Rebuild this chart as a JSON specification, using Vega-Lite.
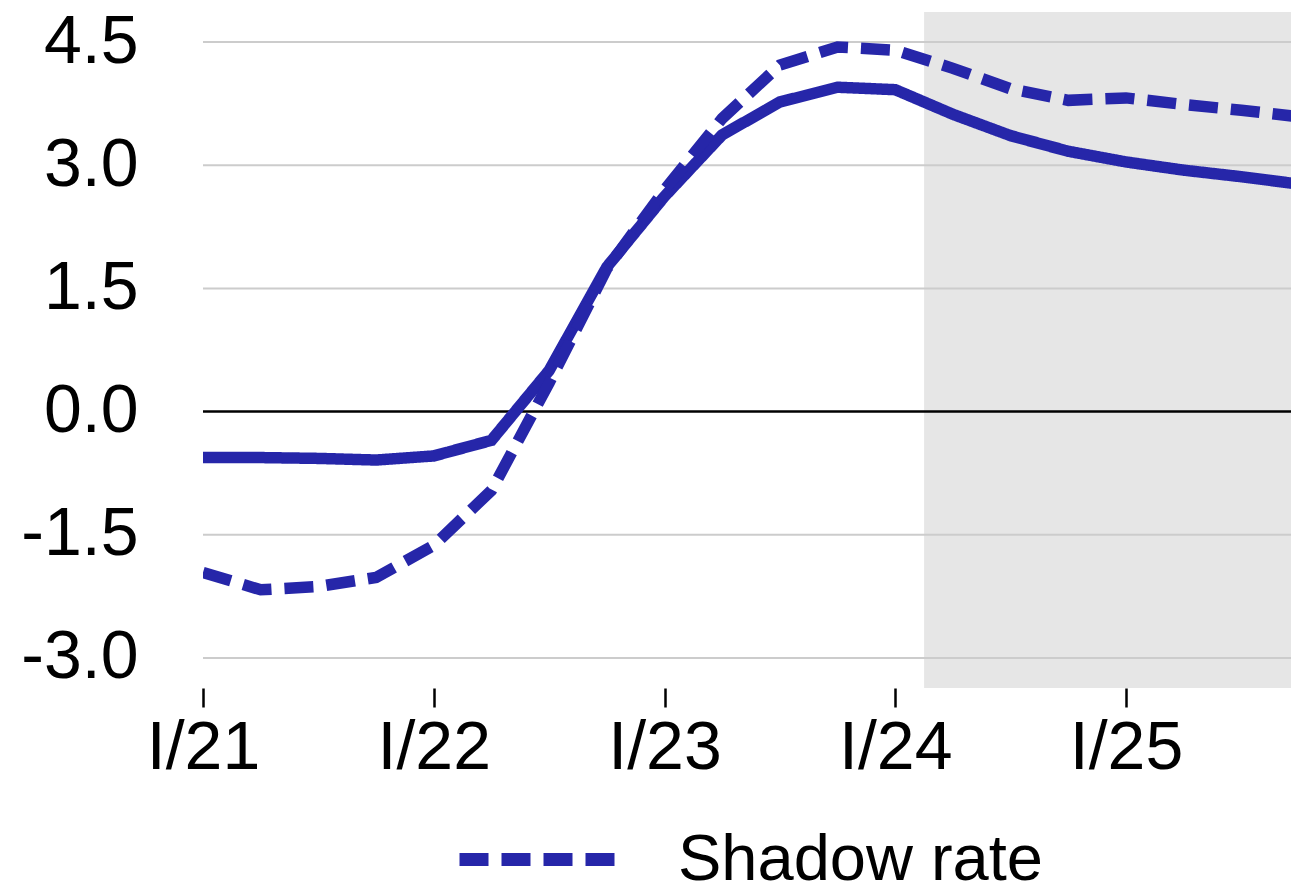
{
  "$schema": "https://vega.github.io/schema/vega-lite/v6.json",
  "autosize": {"type": "none"},
  "width": 1088,
  "height": 676,
  "padding": {"left": 203, "top": 12, "right": 0, "bottom": 203},
  "background": "white",
  "config": {
    "view": {"stroke": null},
    "font": "'Liberation Sans', Arial, sans-serif",
    "axisX": {"title": null, "grid": false, "domain": false, "ticks": true, "tickSize": 19, "tickWidth": 2.5, "tickColor": "black", "labelFontSize": 68, "labelColor": "black", "labelPadding": 7, "labelFlush": false, "labelOverlap": false, "labelBound": false},
    "axisY": {"title": null, "grid": false, "domain": false, "ticks": false, "labelFontSize": 68, "labelColor": "black", "labelPadding": 65, "labelOverlap": false, "labelBound": false}
  },
  "title": {"text": "Interest rates (%, p.a.)", "fontSize": 96, "fontWeight": "normal", "anchor": "middle", "baseline": "alphabetic", "offset": -30, "color": "black"},
  "datasets": {
    "rates": [
      {"q": 0, "series": "€STR", "value": -0.56},
      {"q": 1, "series": "€STR", "value": -0.56},
      {"q": 2, "series": "€STR", "value": -0.57},
      {"q": 3, "series": "€STR", "value": -0.59},
      {"q": 4, "series": "€STR", "value": -0.54},
      {"q": 5, "series": "€STR", "value": -0.35},
      {"q": 6, "series": "€STR", "value": 0.50},
      {"q": 7, "series": "€STR", "value": 1.76},
      {"q": 8, "series": "€STR", "value": 2.62},
      {"q": 9, "series": "€STR", "value": 3.37},
      {"q": 10, "series": "€STR", "value": 3.77},
      {"q": 11, "series": "€STR", "value": 3.95},
      {"q": 12, "series": "€STR", "value": 3.92},
      {"q": 13, "series": "€STR", "value": 3.62},
      {"q": 14, "series": "€STR", "value": 3.36},
      {"q": 15, "series": "€STR", "value": 3.17},
      {"q": 16, "series": "€STR", "value": 3.04},
      {"q": 17, "series": "€STR", "value": 2.94},
      {"q": 18, "series": "€STR", "value": 2.86},
      {"q": 19, "series": "€STR", "value": 2.77},
      {"q": 0, "series": "Shadow rate", "value": -1.96},
      {"q": 1, "series": "Shadow rate", "value": -2.17},
      {"q": 2, "series": "Shadow rate", "value": -2.13},
      {"q": 3, "series": "Shadow rate", "value": -2.02},
      {"q": 4, "series": "Shadow rate", "value": -1.63},
      {"q": 5, "series": "Shadow rate", "value": -0.96},
      {"q": 6, "series": "Shadow rate", "value": 0.35},
      {"q": 7, "series": "Shadow rate", "value": 1.74},
      {"q": 8, "series": "Shadow rate", "value": 2.70},
      {"q": 9, "series": "Shadow rate", "value": 3.57},
      {"q": 10, "series": "Shadow rate", "value": 4.22},
      {"q": 11, "series": "Shadow rate", "value": 4.44},
      {"q": 12, "series": "Shadow rate", "value": 4.40},
      {"q": 13, "series": "Shadow rate", "value": 4.18},
      {"q": 14, "series": "Shadow rate", "value": 3.93},
      {"q": 15, "series": "Shadow rate", "value": 3.79},
      {"q": 16, "series": "Shadow rate", "value": 3.82},
      {"q": 17, "series": "Shadow rate", "value": 3.74},
      {"q": 18, "series": "Shadow rate", "value": 3.67},
      {"q": 19, "series": "Shadow rate", "value": 3.59}
    ],
    "shade": [{"start": 12.5, "end": 19}],
    "grid": [{"v": -3}, {"v": -1.5}, {"v": 1.5}, {"v": 3}, {"v": 4.5}],
    "zero": [{"v": 0}]
  },
  "layer": [
    {
      "data": {"name": "rates"},
      "mark": {"type": "line", "color": "#2626A9", "strokeWidth": 11, "clip": true, "opacity": 0},
      "encoding": {
        "x": {
          "field": "q", "type": "quantitative",
          "scale": {"domain": [0, 18.86], "nice": false, "zero": false},
          "axis": {"values": [0, 4, 8, 12, 16], "labelExpr": "'I/' + (21 + datum.value / 4)"}
        },
        "y": {
          "field": "value", "type": "quantitative",
          "scale": {"domain": [-3.366, 4.866], "nice": false, "zero": false},
          "axis": {"values": [-3, -1.5, 0, 1.5, 3, 4.5], "labelExpr": "datum.value < 0 ? '-' + format(-datum.value, '.1f') : format(datum.value, '.1f')"}
        }
      }
    },
    {
      "data": {"name": "shade"},
      "mark": {"type": "rect", "fill": "#E6E6E6", "clip": true},
      "encoding": {
        "x": {"field": "start", "type": "quantitative"},
        "x2": {"field": "end"}
      }
    },
    {
      "data": {"name": "grid"},
      "mark": {"type": "rule", "color": "#CCCCCC", "strokeWidth": 2},
      "encoding": {
        "y": {"field": "v", "type": "quantitative"}
      }
    },
    {
      "data": {"name": "zero"},
      "mark": {"type": "rule", "color": "black", "strokeWidth": 2.5},
      "encoding": {
        "y": {"field": "v", "type": "quantitative"}
      }
    },
    {
      "data": {"name": "rates"},
      "mark": {"type": "line", "color": "#2626A9", "strokeWidth": 11.5, "clip": true},
      "encoding": {
        "x": {"field": "q", "type": "quantitative"},
        "y": {"field": "value", "type": "quantitative"},
        "strokeDash": {
          "field": "series", "type": "nominal",
          "scale": {"domain": ["Shadow rate", "€STR"], "range": [[29, 13], [1, 0]]},
          "legend": {"orient": "none", "legendX": 250, "legendY": 762, "direction": "vertical", "title": null, "symbolType": "stroke", "symbolSize": 24964, "symbolStrokeWidth": 13, "symbolStrokeColor": "#2626A9", "labelFontSize": 65, "labelColor": "black", "labelOffset": 54, "labelLimit": 1000, "padding": 0}
        }
      }
    }
  ]
}
